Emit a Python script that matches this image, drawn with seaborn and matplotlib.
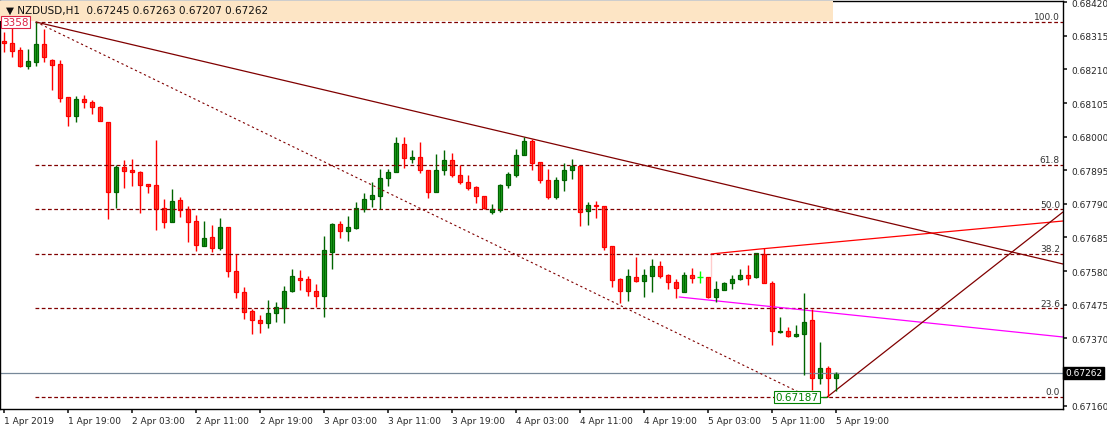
import matplotlib
matplotlib.use("Agg")
import matplotlib.pyplot as plt
import seaborn as sns
import numpy as np
import pandas as pd

# ---- data (in screen rows of the reference; converted to price below)
P100, P0 = 0.68358, 0.67187
PX = 0.00003123  # price per pixel row
def yp(v):
    return P100 - (np.asarray(v, float) - 23) * PX

open_y = [42,44,51,67,63,45,61,65,98,117,100,103,108,123,193,168,171,173,185,186,209,223,201,210,222,247,238,249,228,272,293,312,321,324,314,
          309,292,279,280,292,297,253,225,232,229,210,200,197,179,173,145,160,158,171,193,171,161,176,183,188,197,213,211,186,176,156,142,163,181,198,
          181,171,167,212,206,207,247,280,292,278,282,277,267,276,283,293,276,278,278,298,291,284,280,276,278,255,284,333,332,337,335,321,379,369,379]
high_y = [33,23,48,50,23,30,60,61,98,97,96,101,107,123,166,161,160,172,185,141,200,190,198,207,216,222,226,219,228,255,288,310,316,301,303,
          287,270,271,277,285,237,224,222,217,203,194,183,170,170,138,138,151,143,171,155,151,154,166,176,187,197,205,185,173,150,138,140,163,170,178,
          164,160,167,203,202,207,247,279,270,258,270,260,262,275,280,273,269,272,278,282,283,276,270,266,254,249,282,318,328,326,294,310,343,367,373]
low_y = [53,58,68,70,67,63,91,103,127,123,109,115,122,220,209,189,187,214,194,231,229,223,218,243,252,247,253,251,278,299,320,335,334,329,323,
         324,293,291,297,308,318,270,239,242,230,213,208,210,187,173,169,164,174,199,193,176,178,185,191,204,210,215,213,189,178,156,171,184,200,200,
         192,180,227,226,219,251,288,304,302,283,298,293,279,290,299,293,284,284,299,303,291,290,281,286,279,284,346,334,338,338,376,391,385,398,392]
close_y = [44,52,67,62,45,58,66,99,117,100,103,108,122,193,168,172,173,186,187,210,223,202,211,223,246,239,249,228,272,293,313,321,324,314,308,
           292,277,281,292,297,251,225,232,228,209,200,196,179,173,144,159,158,171,193,171,161,176,183,189,197,209,210,186,175,156,142,164,181,198,181,
           171,167,213,206,207,248,281,292,277,282,276,267,277,283,289,276,279,278,298,290,284,280,276,279,254,284,332,332,337,335,323,379,369,379,374]

fib_levels = [0.0, 23.6, 38.2, 50.0, 61.8, 100.0]
fib_labels = ["0.0", "23.6", "38.2", "50.0", "61.8", "100.0"]
time_labels = ["1 Apr 2019", "1 Apr 19:00", "2 Apr 03:00", "2 Apr 11:00", "2 Apr 19:00", "3 Apr 03:00",
               "3 Apr 11:00", "3 Apr 19:00", "4 Apr 03:00", "4 Apr 11:00", "4 Apr 19:00", "5 Apr 03:00",
               "5 Apr 11:00", "5 Apr 19:00"]
price_ticks = [0.68420, 0.68315, 0.68210, 0.68105, 0.68000, 0.67895, 0.67790, 0.67685, 0.67580, 0.67475, 0.67370, 0.67160]
last_price = 0.67262

df = pd.DataFrame({"o": yp(open_y), "h": yp(high_y), "l": yp(low_y), "c": yp(close_y)})
df["i"] = np.arange(len(df))

sns.set_theme(style="white")
plt.rcParams['font.family'] = ['DejaVu Sans']
fig = plt.figure(figsize=(11.07, 4.31), dpi=100)
ax = fig.add_axes([0.0, 21/431, 1063/1107, 408/431])

x0 = -0.5
xr = x0 + 1063/8
ax.set_xlim(x0, xr)
ax.set_ylim(yp(410), yp(2))

rng = P100 - P0
for lv, lb in zip(fib_levels, fib_labels):
    p = P0 + rng * lv / 100
    ax.hlines(p, 3.9, xr, colors="#800000", linestyles=(0, (3, 2)), lw=0.9)
    ax.text(x0 + 1060/8, p + 0.00003, lb, ha="right", va="bottom", fontsize=6.5, color="#333333")

ax.axhline(last_price, color="#778899", lw=0.9)

def seg(xs, ys, **kw):
    sns.lineplot(x=xs, y=ys, ax=ax, legend=False, sort=False, **kw)
seg([4, 100.6], [P100, P0], color="#800000", lw=0.8, linestyle=(0, (2, 2.5)))
seg([4, xr], [P100, yp(265)], color="#800000", lw=0.9)
seg([88.4, 94.5, xr], [yp(255), yp(250), yp(222)], color="#FF0000", lw=0.9)
seg([88.4, 88.4], [yp(278), yp(255)], color="#FF0000", lw=0.9)
seg([84.4, xr], [yp(298), yp(338)], color="#FF00FF", lw=0.9)
seg([102.9, xr], [P0, yp(213)], color="#800000", lw=0.9)

up = df[df.c > df.o]
dn = df[df.c < df.o]
dj = df[df.c == df.o]
ax.vlines(up.i, up.l, up.h, color="#006400", lw=1)
ax.vlines(dn.i, dn.l, dn.h, color="#FF0000", lw=1)
ax.vlines(dj.i, dj.l, dj.h, color="#00FF00", lw=1)
ax.hlines(dj.c, dj.i - 0.35, dj.i + 0.35, color="#00FF00", lw=1)
ax.bar(up.i, up.c - up.o, bottom=up.o, width=0.62, color="#22AA22", edgecolor="#006400", lw=0.9)
ax.bar(dn.i, dn.o - dn.c, bottom=dn.c, width=0.62, color="#FF5A45", edgecolor="#FF0000", lw=0.9)

ax.fill_between([x0, x0 + 833/8], yp(22), yp(2), color="#FDE5C5", lw=0, zorder=5)
ax.text(x0 + 6/8, yp(11), "\u25BC NZDUSD,H1  0.67245 0.67263 0.67207 0.67262", fontsize=7.5,
        va="center", ha="left", color="#111111", zorder=6)
ax.text(x0 + 2/8, P100, "3358", fontsize=7.5, color="#DD2244", ha="left", va="center", zorder=7,
        bbox=dict(boxstyle="square,pad=0.1", fc="white", ec="#DD2244", lw=0.8))

seg([102.0, 102.9], [P0, P0], color="#008000", lw=0.9)
ax.text(101.8, P0, "0.67187", fontsize=7.5, color="#008000", ha="right", va="center", zorder=7,
        bbox=dict(boxstyle="square,pad=0.12", fc="white", ec="#008000", lw=0.8))

for s in ["left", "top", "bottom", "right"]:
    ax.spines[s].set_color("black")
    ax.spines[s].set_linewidth(1)
ax.yaxis.tick_right()
ax.set_yticks(price_ticks)
ax.set_yticklabels([f"{t:.5f}" for t in price_ticks], fontsize=6.5)
ax.tick_params(axis="y", length=3, pad=3, right=True)
ax.set_xticks(np.arange(len(time_labels)) * 8)
ax.set_xticklabels(time_labels, fontsize=6.5, ha="left")
ax.tick_params(axis="x", length=3, pad=2, bottom=True)
ax.text(1.0 + 2/1063, last_price, f"{last_price:.5f}", transform=ax.get_yaxis_transform(),
        fontsize=6.5, color="white", ha="left", va="center", clip_on=False,
        bbox=dict(boxstyle="square,pad=0.2", fc="black", ec="black"))
ax.set_xlabel(""); ax.set_ylabel("")
ax.grid(False)

fig.savefig("out.png", dpi=100, facecolor="white")
